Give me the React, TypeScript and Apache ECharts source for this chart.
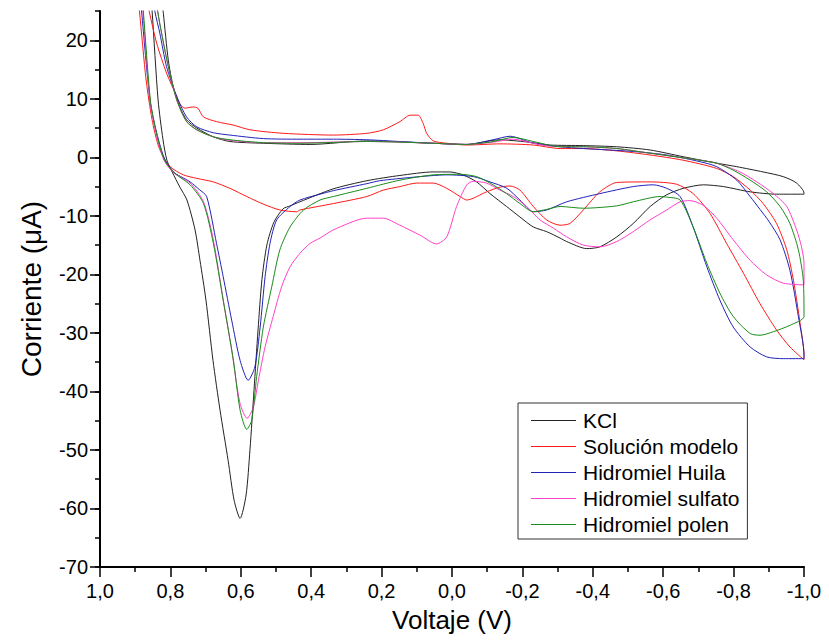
import React, { useEffect, useRef } from "react";
import * as echarts from "echarts";

const seriesNames = ["KCl", "Solución modelo", "Hidromiel Huila", "Hidromiel sulfato", "Hidromiel polen"];

const yTickValues = [-70, -60, -50, -40, -30, -20, -10, 0, 10, 20];

// [voltage (V), current (µA)]
const kcl: [number, number][] = [
  [0.855, 27], [0.852, 25.0], [0.835, 9.8], [0.821, 3.0], [0.81, -0.5], [0.795, -2.5], [0.773, -5.1], [0.753, -7.3],
  [0.73, -12.4], [0.716, -17.6], [0.699, -24.4], [0.679, -34.7], [0.659, -43.2], [0.636, -51.8], [0.619, -58.6],
  [0.602, -61.7], [0.585, -57.7], [0.574, -50.0], [0.5625, -39.8], [0.551, -29.5], [0.54, -20.9], [0.526, -15.0],
  [0.506, -11.1], [0.48, -8.8], [0.46, -8.3], [0.432, -7.6], [0.338, -5.4], [0.242, -4.0], [0.148, -3.1],
  [0.054, -2.5], [0.006, -2.5], [-0.031, -3.0], [-0.07, -4.2], [-0.108, -6.2], [-0.155, -8.4], [-0.193, -10.2],
  [-0.231, -11.9], [-0.269, -12.7], [-0.307, -13.8], [-0.326, -14.4], [-0.383, -15.6], [-0.42, -15.3],
  [-0.468, -13.6], [-0.515, -11.3], [-0.563, -8.4], [-0.61, -6.4], [-0.657, -5.3], [-0.714, -4.7], [-0.771, -5.0],
  [-0.847, -5.9], [-0.922, -6.3], [-1.0, -6.3],
  [-1.0, -6.1], [-0.979, -4.4], [-0.941, -3.3], [-0.884, -2.5], [-0.809, -1.6], [-0.752, -1.0], [-0.657, 0.1],
  [-0.563, 1.25], [-0.468, 1.8], [-0.373, 2.0], [-0.278, 2.1], [-0.23, 2.5], [-0.184, 2.8], [-0.136, 3.0],
  [-0.042, 2.2], [0.054, 2.4], [0.242, 2.8], [0.403, 2.2], [0.536, 2.4], [0.631, 2.7], [0.678, 3.5], [0.725, 5.0],
  [0.754, 6.4], [0.773, 8.6], [0.792, 12.1], [0.806, 16.6], [0.82, 24.6], [0.824, 27],
];

const solucion: [number, number][] = [
  [0.892, 27], [0.888, 25], [0.869, 13.2], [0.852, 6.4], [0.835, 2.1], [0.82, 0.1], [0.801, -1.6], [0.763, -3.0],
  [0.725, -3.6], [0.678, -4.2], [0.631, -5.3], [0.583, -6.7], [0.536, -8.0], [0.489, -9.0], [0.441, -9.3],
  [0.432, -9.0], [0.337, -7.9], [0.242, -6.7], [0.195, -5.6], [0.148, -5.0], [0.1, -4.4], [0.053, -4.4],
  [0.015, -5.3], [-0.023, -6.7], [-0.042, -7.3], [-0.06, -7.0], [-0.098, -5.9], [-0.136, -5.1], [-0.165, -4.9],
  [-0.193, -5.6], [-0.231, -8.4], [-0.269, -10.7], [-0.307, -11.6], [-0.335, -11.3], [-0.373, -9.0],
  [-0.42, -5.9], [-0.468, -4.3], [-0.5625, -4.2], [-0.638, -4.6], [-0.685, -6.2], [-0.733, -9.6], [-0.78, -14.7],
  [-0.828, -19.8], [-0.875, -25.0], [-0.922, -29.5], [-0.96, -32.4], [-1.0, -34.6],
  [-1.0, -33.8], [-0.989, -28.4], [-0.97, -21.0], [-0.951, -15.8], [-0.922, -11.3], [-0.884, -7.9], [-0.847, -5.6],
  [-0.799, -3.3], [-0.752, -1.9], [-0.657, -0.5], [-0.5625, 0.4], [-0.468, 1.1], [-0.373, 1.5], [-0.307, 1.5],
  [-0.231, 2.1], [-0.136, 2.3], [-0.042, 2.1], [0.015, 2.4], [0.053, 2.8], [0.072, 4.1], [0.082, 5.8], [0.096, 7.2],
  [0.119, 7.2], [0.148, 6.1], [0.195, 4.7], [0.242, 4.1], [0.337, 3.8], [0.479, 4.1], [0.574, 4.7], [0.621, 5.5],
  [0.669, 6.1], [0.706, 6.9], [0.722, 8.4], [0.736, 8.6], [0.759, 8.4], [0.773, 9.1], [0.782, 10.4], [0.811, 14.4],
  [0.839, 19.5], [0.86, 24.9], [0.866, 27],
];

const huila: [number, number][] = [
  [0.885, 27], [0.882, 25], [0.858, 9.8], [0.839, 4.2], [0.815, -0.5], [0.787, -2.7], [0.767, -3.4], [0.744, -4.2],
  [0.718, -5.5], [0.697, -6.7], [0.669, -14.7], [0.65, -20.4], [0.626, -27.8], [0.602, -34.7], [0.579, -38.1],
  [0.56, -35.8], [0.545, -29.0], [0.531, -20.4], [0.517, -14.7], [0.498, -10.7], [0.46, -8.4], [0.432, -7.3],
  [0.375, -6.3], [0.337, -5.7], [0.242, -4.5], [0.205, -4.0], [0.11, -3.4], [0.015, -3.0], [-0.061, -3.3],
  [-0.108, -4.2], [-0.156, -5.3], [-0.193, -7.3], [-0.231, -9.3], [-0.269, -9.0], [-0.326, -7.6], [-0.42, -6.2],
  [-0.515, -5.0], [-0.572, -4.7], [-0.61, -5.3], [-0.648, -6.7], [-0.685, -11.9], [-0.724, -18.7], [-0.761, -24.4],
  [-0.799, -29.0], [-0.847, -32.4], [-0.894, -34.1], [-0.941, -34.4], [-1.0, -34.4],
  [-1.0, -33.8], [-0.984, -27.2], [-0.96, -19.3], [-0.932, -14.1], [-0.9, -10.9], [-0.875, -8.9], [-0.847, -6.7],
  [-0.809, -3.9], [-0.752, -1.6], [-0.705, -0.75], [-0.61, 0.4], [-0.515, 1.0], [-0.373, 1.5], [-0.307, 1.8],
  [-0.231, 2.4], [-0.165, 3.6], [-0.117, 3.0], [-0.042, 2.2], [0.053, 2.4], [0.148, 2.7], [0.242, 3.0],
  [0.337, 3.1], [0.432, 3.1], [0.536, 3.2], [0.631, 3.8], [0.678, 4.2], [0.725, 5.2], [0.754, 6.9], [0.782, 10.4],
  [0.811, 15.5], [0.83, 21.2], [0.844, 24.9], [0.848, 27],
];

const sulfato: [number, number][] = [
  [0.879, 27], [0.878, 25], [0.858, 9.8], [0.841, 4.2], [0.818, -0.5], [0.79, -2.7], [0.744, -4.4], [0.706, -7.6],
  [0.678, -14.1], [0.65, -24.4], [0.626, -32.9], [0.602, -42.1], [0.582, -44.6], [0.564, -42.6], [0.55, -38.1],
  [0.531, -32.4], [0.508, -27.2], [0.484, -22.1], [0.46, -18.7], [0.432, -16.4], [0.403, -14.7], [0.375, -13.8],
  [0.337, -12.4], [0.242, -10.4], [0.195, -10.4], [0.148, -11.6], [0.091, -13.3], [0.044, -14.8], [0.015, -13.6],
  [-0.013, -8.4], [-0.042, -4.7], [-0.06, -4.1], [-0.098, -4.4], [-0.136, -5.6], [-0.174, -6.7], [-0.212, -8.4],
  [-0.25, -10.7], [-0.288, -12.1], [-0.326, -13.6], [-0.373, -15.0], [-0.42, -15.3], [-0.468, -14.4],
  [-0.515, -12.7], [-0.5625, -10.7], [-0.61, -9.0], [-0.648, -7.6], [-0.676, -7.4], [-0.714, -8.2],
  [-0.752, -10.4], [-0.799, -14.1], [-0.847, -17.6], [-0.894, -20.1], [-0.941, -21.5], [-1.0, -21.8],
  [-1.0, -18.1], [-0.993, -15.3], [-0.979, -12.4], [-0.951, -8.4], [-0.913, -6.2], [-0.866, -4.2], [-0.818, -2.5],
  [-0.752, -1.0], [-0.705, -0.5], [-0.5625, 0.7], [-0.468, 1.5], [-0.373, 1.8], [-0.278, 1.9], [-0.231, 2.4],
  [-0.174, 3.1], [-0.117, 2.6], [-0.042, 2.2], [0.053, 2.4], [0.148, 2.6], [0.242, 2.7], [0.432, 2.5],
  [0.536, 2.5], [0.631, 2.9], [0.678, 3.5], [0.725, 4.7], [0.754, 6.1], [0.782, 9.8], [0.806, 15.5],
  [0.825, 21.2], [0.836, 24.9], [0.839, 27],
];

const polen: [number, number][] = [
  [0.881, 27], [0.877, 25], [0.857, 9.8], [0.84, 4.2], [0.817, -0.5], [0.788, -2.7], [0.744, -4.7], [0.706, -7.9],
  [0.678, -14.7], [0.65, -24.4], [0.621, -34.7], [0.602, -43.2], [0.583, -46.5], [0.569, -44.9], [0.555, -37.5],
  [0.536, -29.0], [0.512, -22.1], [0.489, -15.8], [0.46, -11.9], [0.422, -9.0], [0.375, -7.3], [0.337, -6.7],
  [0.242, -5.3], [0.148, -3.9], [0.053, -3.0], [-0.023, -2.9], [-0.07, -3.3], [-0.108, -4.4], [-0.155, -6.2],
  [-0.193, -7.9], [-0.231, -9.3], [-0.269, -8.9], [-0.307, -8.4], [-0.373, -8.7], [-0.468, -8.3], [-0.515, -7.6],
  [-0.591, -6.7], [-0.61, -6.8], [-0.648, -7.3], [-0.685, -11.9], [-0.724, -18.1], [-0.761, -23.2],
  [-0.799, -27.2], [-0.847, -30.1], [-0.875, -30.4], [-0.913, -29.8], [-0.96, -28.7], [-1.0, -27.2],
  [-0.998, -21.0], [-0.984, -15.8], [-0.96, -11.3], [-0.932, -8.4], [-0.894, -5.9], [-0.847, -3.9], [-0.799, -2.2],
  [-0.752, -1.0], [-0.705, -0.5], [-0.5625, 0.7], [-0.468, 1.5], [-0.373, 1.8], [-0.307, 1.8], [-0.231, 2.7],
  [-0.174, 3.4], [-0.117, 2.7], [-0.042, 2.2], [0.053, 2.4], [0.148, 2.6], [0.242, 2.7], [0.432, 2.4],
  [0.536, 2.5], [0.631, 3.0], [0.678, 3.5], [0.725, 4.7], [0.754, 6.1], [0.782, 9.8], [0.806, 15.5],
  [0.825, 21.2], [0.836, 24.9], [0.839, 27],
];

const seriesData = [kcl, solucion, huila, sulfato, polen];
const seriesColors = ["#222222", "#ff1a1a", "#2222b8", "#ff40c8", "#1a8c1a"];

const FONT = "'Liberation Sans', Arial, sans-serif";

function fmtX(v: number): string {
  const r = Math.round(v * 10) / 10;
  const s = (Math.abs(r) < 1e-9 ? 0 : r).toFixed(1);
  return s.replace(".", ",");
}

export default function App() {
  const ref = useRef<HTMLDivElement>(null);
  useEffect(() => {
    if (!ref.current) return;
    const chart = echarts.init(ref.current, undefined, { renderer: "svg" });
    chart.setOption({
      animation: false,
      backgroundColor: "#ffffff",
      grid: { left: 100, right: 25, top: 11, bottom: 74 },
      legend: {
        show: true,
        orient: "vertical",
        left: 518,
        top: 403,
        padding: [7, 8, 4, 13],
        icon: "rect",
        itemWidth: 45,
        itemHeight: 1,
        itemGap: 5,
        borderColor: "#333333",
        borderWidth: 1,
        backgroundColor: "#ffffff",
        data: seriesNames,
        textStyle: { fontFamily: FONT, fontSize: 21, color: "#000", lineHeight: 20, padding: [0, 0, 0, 2] },
      },
      xAxis: {
        type: "value",
        min: -1,
        max: 1,
        interval: 0.2,
        inverse: true,
        name: "Voltaje (V)",
        nameLocation: "middle",
        nameGap: 40,
        nameTextStyle: { fontFamily: FONT, fontSize: 26, color: "#000" },
        axisLine: { show: true, onZero: false, lineStyle: { color: "#000", width: 2 } },
        axisTick: { show: true, length: 10, lineStyle: { color: "#000", width: 1.5 } },
        minorTick: { show: true, splitNumber: 2, length: 5, lineStyle: { color: "#000", width: 1.5 } },
        axisLabel: {
          fontFamily: FONT,
          fontSize: 20,
          color: "#000",
          margin: 14,
          formatter: (v: number) => fmtX(v),
        },
        splitLine: { show: false },
        minorSplitLine: { show: false },
      },
      yAxis: [
        {
          type: "value",
          min: -70,
          max: 25,
          interval: 10,
          name: "Corriente (μA)",
          nameLocation: "middle",
          nameGap: 55,
          nameTextStyle: { fontFamily: FONT, fontSize: 28, color: "#000" },
          axisLine: { show: true, onZero: false, lineStyle: { color: "#000", width: 2 } },
          axisTick: { show: true, length: 10, customValues: yTickValues, lineStyle: { color: "#000", width: 1.5 } },
          axisLabel: {
            fontFamily: FONT,
            fontSize: 20,
            color: "#000",
            margin: 12,
            customValues: yTickValues,
            formatter: (v: number) => (v > 20 ? "" : String(v)),
          },
          splitLine: { show: false },
        },
        {
          type: "value",
          min: -70,
          max: 25,
          interval: 5,
          position: "left",
          axisLine: { show: false, onZero: false },
          axisTick: { show: true, length: 5, lineStyle: { color: "#000", width: 1.5 } },
          axisLabel: { show: false },
          splitLine: { show: false },
        },
      ],
      series: seriesNames.map((name, i) => ({
        name,
        type: "line",
        xAxisIndex: 0,
        yAxisIndex: 0,
        data: seriesData[i],
        symbol: "none",
        showSymbol: false,
        smooth: 0.25,
        clip: true,
        lineStyle: { color: seriesColors[i], width: 1 },
        itemStyle: { color: seriesColors[i] },
      })),
    });
    return () => chart.dispose();
  }, []);
  return (
    <div
      ref={ref}
      style={{ position: "fixed", left: 0, top: 0, width: 829, height: 641, background: "#fff" }}
    />
  );
}
